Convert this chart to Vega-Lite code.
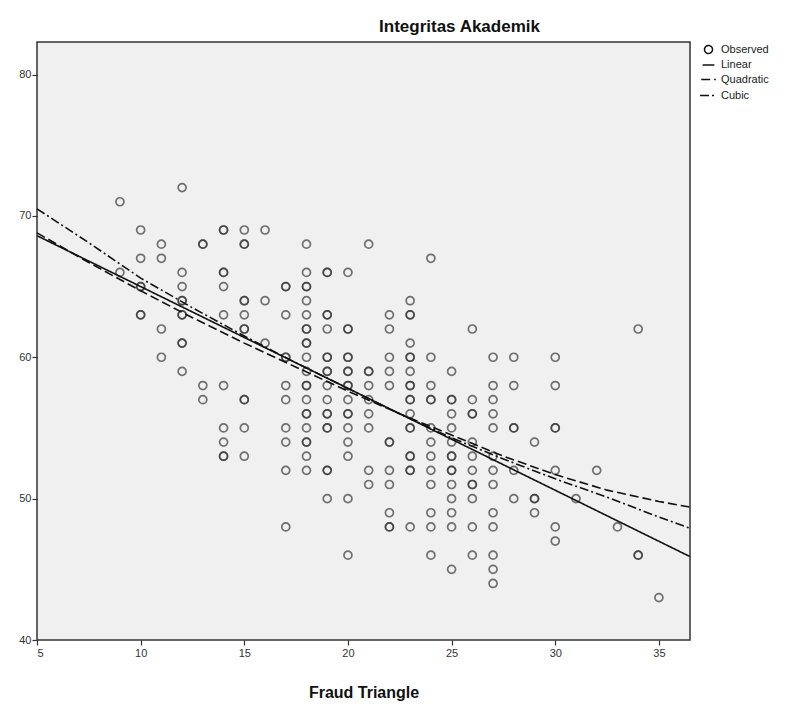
{
  "$schema": "https://vega.github.io/schema/vega-lite/v6.json",
  "width": 653,
  "height": 598,
  "autosize": {"type": "none"},
  "padding": {"left": 37, "top": 42, "right": 118, "bottom": 66},
  "background": "white",
  "title": {"text": "Integritas Akademik", "fontSize": 17, "font": "Liberation Sans", "fontWeight": "bold", "color": "#111", "anchor": "middle", "frame": "group", "dx": 96, "offset": 6},
  "datasets": {
    "obs": [
      {"x":9,"y":71},{"x":9,"y":66},
      {"x":10,"y":69},{"x":10,"y":67},{"x":10,"y":65},{"x":10,"y":65},{"x":10,"y":63},{"x":10,"y":63},
      {"x":11,"y":68},{"x":11,"y":67},{"x":11,"y":62},{"x":11,"y":60},
      {"x":12,"y":72},{"x":12,"y":66},{"x":12,"y":65},{"x":12,"y":64},{"x":12,"y":64},{"x":12,"y":63},{"x":12,"y":63},{"x":12,"y":61},{"x":12,"y":61},{"x":12,"y":59},
      {"x":13,"y":68},{"x":13,"y":68},{"x":13,"y":58},{"x":13,"y":57},
      {"x":14,"y":69},{"x":14,"y":69},{"x":14,"y":66},{"x":14,"y":66},{"x":14,"y":65},{"x":14,"y":63},{"x":14,"y":58},{"x":14,"y":55},{"x":14,"y":54},{"x":14,"y":53},{"x":14,"y":53},
      {"x":15,"y":69},{"x":15,"y":68},{"x":15,"y":68},{"x":15,"y":64},{"x":15,"y":64},{"x":15,"y":63},{"x":15,"y":62},{"x":15,"y":62},{"x":15,"y":57},{"x":15,"y":57},{"x":15,"y":55},{"x":15,"y":53},
      {"x":16,"y":69},{"x":16,"y":64},{"x":16,"y":61},
      {"x":17,"y":65},{"x":17,"y":65},{"x":17,"y":63},{"x":17,"y":60},{"x":17,"y":60},{"x":17,"y":58},{"x":17,"y":57},{"x":17,"y":55},{"x":17,"y":54},{"x":17,"y":52},{"x":17,"y":48},
      {"x":18,"y":68},{"x":18,"y":66},{"x":18,"y":65},{"x":18,"y":65},{"x":18,"y":64},{"x":18,"y":63},{"x":18,"y":62},{"x":18,"y":62},{"x":18,"y":61},{"x":18,"y":61},{"x":18,"y":60},{"x":18,"y":59},{"x":18,"y":58},{"x":18,"y":58},{"x":18,"y":57},{"x":18,"y":56},{"x":18,"y":56},{"x":18,"y":55},{"x":18,"y":54},{"x":18,"y":54},{"x":18,"y":53},{"x":18,"y":52},
      {"x":19,"y":66},{"x":19,"y":66},{"x":19,"y":63},{"x":19,"y":63},{"x":19,"y":62},{"x":19,"y":60},{"x":19,"y":60},{"x":19,"y":59},{"x":19,"y":59},{"x":19,"y":58},{"x":19,"y":57},{"x":19,"y":56},{"x":19,"y":56},{"x":19,"y":55},{"x":19,"y":55},{"x":19,"y":52},{"x":19,"y":52},{"x":19,"y":50},
      {"x":20,"y":66},{"x":20,"y":62},{"x":20,"y":62},{"x":20,"y":60},{"x":20,"y":60},{"x":20,"y":59},{"x":20,"y":59},{"x":20,"y":58},{"x":20,"y":58},{"x":20,"y":57},{"x":20,"y":56},{"x":20,"y":56},{"x":20,"y":55},{"x":20,"y":54},{"x":20,"y":53},{"x":20,"y":50},{"x":20,"y":46},
      {"x":21,"y":68},{"x":21,"y":59},{"x":21,"y":59},{"x":21,"y":58},{"x":21,"y":57},{"x":21,"y":56},{"x":21,"y":55},{"x":21,"y":52},{"x":21,"y":51},
      {"x":22,"y":63},{"x":22,"y":62},{"x":22,"y":60},{"x":22,"y":59},{"x":22,"y":58},{"x":22,"y":54},{"x":22,"y":54},{"x":22,"y":52},{"x":22,"y":51},{"x":22,"y":49},{"x":22,"y":48},{"x":22,"y":48},
      {"x":23,"y":64},{"x":23,"y":63},{"x":23,"y":63},{"x":23,"y":61},{"x":23,"y":60},{"x":23,"y":60},{"x":23,"y":59},{"x":23,"y":58},{"x":23,"y":58},{"x":23,"y":57},{"x":23,"y":57},{"x":23,"y":56},{"x":23,"y":55},{"x":23,"y":55},{"x":23,"y":53},{"x":23,"y":53},{"x":23,"y":52},{"x":23,"y":52},{"x":23,"y":48},
      {"x":24,"y":67},{"x":24,"y":60},{"x":24,"y":58},{"x":24,"y":57},{"x":24,"y":57},{"x":24,"y":55},{"x":24,"y":54},{"x":24,"y":53},{"x":24,"y":52},{"x":24,"y":51},{"x":24,"y":49},{"x":24,"y":48},{"x":24,"y":46},
      {"x":25,"y":59},{"x":25,"y":57},{"x":25,"y":57},{"x":25,"y":56},{"x":25,"y":55},{"x":25,"y":54},{"x":25,"y":53},{"x":25,"y":53},{"x":25,"y":52},{"x":25,"y":52},{"x":25,"y":51},{"x":25,"y":50},{"x":25,"y":49},{"x":25,"y":48},{"x":25,"y":45},
      {"x":26,"y":62},{"x":26,"y":57},{"x":26,"y":56},{"x":26,"y":56},{"x":26,"y":54},{"x":26,"y":53},{"x":26,"y":52},{"x":26,"y":51},{"x":26,"y":51},{"x":26,"y":50},{"x":26,"y":48},{"x":26,"y":46},
      {"x":27,"y":60},{"x":27,"y":58},{"x":27,"y":57},{"x":27,"y":56},{"x":27,"y":55},{"x":27,"y":53},{"x":27,"y":52},{"x":27,"y":51},{"x":27,"y":49},{"x":27,"y":48},{"x":27,"y":46},{"x":27,"y":45},{"x":27,"y":44},
      {"x":28,"y":60},{"x":28,"y":58},{"x":28,"y":55},{"x":28,"y":55},{"x":28,"y":52},{"x":28,"y":50},
      {"x":29,"y":54},{"x":29,"y":50},{"x":29,"y":50},{"x":29,"y":49},
      {"x":30,"y":60},{"x":30,"y":58},{"x":30,"y":55},{"x":30,"y":55},{"x":30,"y":52},{"x":30,"y":48},{"x":30,"y":47},
      {"x":31,"y":50},{"x":32,"y":52},{"x":33,"y":48},
      {"x":34,"y":62},{"x":34,"y":46},{"x":34,"y":46},
      {"x":35,"y":43}
    ],
    "fits": [
      {"series":"Linear","x":5,"y":68.6},{"series":"Linear","x":15,"y":61.4},{"series":"Linear","x":25,"y":54.2},{"series":"Linear","x":36.5,"y":45.9},
      {"series":"Quadratic","x":5,"y":68.8},{"series":"Quadratic","x":7.5,"y":66.7},{"series":"Quadratic","x":10,"y":64.7},{"series":"Quadratic","x":12.5,"y":62.8},{"series":"Quadratic","x":15,"y":61.0},{"series":"Quadratic","x":17.5,"y":59.3},{"series":"Quadratic","x":20,"y":57.6},{"series":"Quadratic","x":22.5,"y":56.0},{"series":"Quadratic","x":25,"y":54.5},{"series":"Quadratic","x":27.5,"y":53.0},{"series":"Quadratic","x":30,"y":51.7},{"series":"Quadratic","x":32.5,"y":50.6},{"series":"Quadratic","x":35,"y":49.8},{"series":"Quadratic","x":36.5,"y":49.4},
      {"series":"Cubic","x":5,"y":70.5},{"series":"Cubic","x":7.5,"y":68.1},{"series":"Cubic","x":10,"y":65.6},{"series":"Cubic","x":12.5,"y":63.5},{"series":"Cubic","x":15,"y":61.5},{"series":"Cubic","x":17.5,"y":59.6},{"series":"Cubic","x":20,"y":57.8},{"series":"Cubic","x":22.5,"y":56.0},{"series":"Cubic","x":25,"y":54.3},{"series":"Cubic","x":27.5,"y":52.8},{"series":"Cubic","x":30,"y":51.4},{"series":"Cubic","x":32.5,"y":50.1},{"series":"Cubic","x":35,"y":48.7},{"series":"Cubic","x":36.5,"y":47.9}
    ]
  },
  "layer": [
    {
      "data": {"name": "obs"},
      "mark": {"type": "point", "filled": false, "stroke": "#333", "strokeWidth": 1.7, "opacity": 0.68},
      "encoding": {
        "x": {"field": "x", "type": "quantitative", "scale": {"domain": [5, 36.5], "nice": false, "zero": false}, "axis": {"values": [5,10,15,20,25,30,35], "title": "Fraud Triangle"}},
        "y": {"field": "y", "type": "quantitative", "scale": {"domain": [40, 82.3], "nice": false, "zero": false}, "axis": {"values": [40,50,60,70,80], "title": null}},
        "shape": {"datum": "Observed", "type": "nominal", "scale": {"domain": ["Observed","Linear","Quadratic","Cubic"], "range": ["circle","stroke","stroke","stroke"]}, "legend": {"title": null}},
        "size": {"datum": "Observed", "type": "nominal", "scale": {"domain": ["Observed","Linear","Quadratic","Cubic"], "range": [64, 289, 289, 289]}, "legend": {"title": null}}
      }
    },
    {
      "data": {"name": "fits"},
      "mark": {"type": "line", "stroke": "#111", "strokeWidth": 1.6},
      "encoding": {
        "x": {"field": "x", "type": "quantitative"},
        "y": {"field": "y", "type": "quantitative"},
        "strokeDash": {"field": "series", "type": "nominal", "scale": {"domain": ["Observed","Linear","Quadratic","Cubic"], "range": [[1,0],[1,0],[9,4],[9,3,2,3]]}, "legend": {"title": null}}
      }
    }
  ],
  "config": {
    "font": "Liberation Sans",
    "view": {"fill": "#f0f0f0", "stroke": "#333", "strokeWidth": 1.5},
    "axis": {"grid": false, "domain": false, "tickColor": "#333", "tickSize": 5, "tickWidth": 1.2, "labelFontSize": 11, "labelColor": "#333", "labelPadding": 2, "titleFontSize": 16, "titleFontWeight": "bold", "titleColor": "#111"},
    "axisX": {"titlePadding": 26},
    "axisY": {"labelPadding": 1},
    "legend": {"orient": "none", "legendX": 662, "legendY": 2, "labelFontSize": 11, "labelColor": "#222", "symbolStrokeColor": "#111", "symbolFillColor": "transparent", "symbolStrokeWidth": 1.5, "rowPadding": 1, "labelOffset": 3, "symbolOpacity": 1}
  }
}
